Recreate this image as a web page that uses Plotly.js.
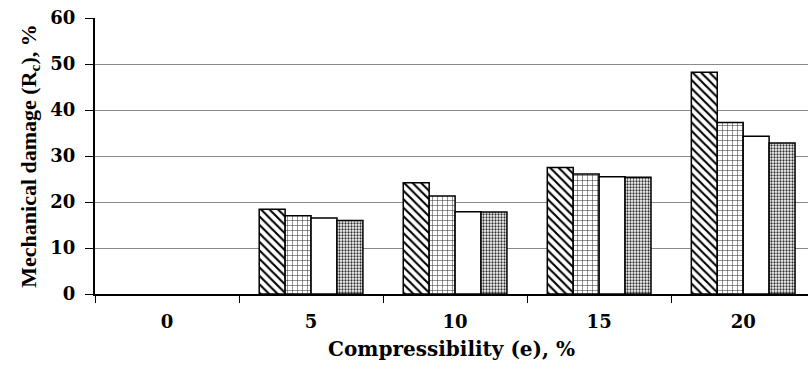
<!DOCTYPE html>
<html>
<head>
<meta charset="utf-8">
<script src="https://cdn.plot.ly/plotly-3.0.1.min.js"></script>
<style>html,body{margin:0;padding:0;background:#fff;}#chart{width:808px;height:370px;}</style>
</head>
<body>
<div id="chart"></div>
<script>
const categories = ["0", "5", "10", "15", "20"];
const series1 = [null, 18.4, 24.2, 27.5, 48.2];
const series2 = [null, 17.0, 21.3, 26.1, 37.3];
const series3 = [null, 16.5, 17.9, 25.5, 34.3];
const series4 = [null, 16.0, 17.8, 25.4, 32.8];
const yTicks = [0, 10, 20, 30, 40, 50, 60];

const patterns = [
  {shape: "\\", size: 6, solidity: 0.35, fgcolor: "#000", bgcolor: "#fff", fillmode: "replace"},
  {shape: "+", size: 5, solidity: 0.2, fgcolor: "#333", bgcolor: "#fff", fillmode: "replace"},
  {shape: "", fgcolor: "#000", bgcolor: "#fff"},
  {shape: ".", size: 3, solidity: 0.45, fgcolor: "#333", bgcolor: "#fff", fillmode: "replace"}
];
const allSeries = [series1, series2, series3, series4];
const data = allSeries.map((s, i) => ({
  type: "bar",
  x: categories,
  y: s,
  marker: {
    color: "#fff",
    line: {color: "#000", width: 1.5},
    pattern: patterns[i]
  },
  showlegend: false,
  hoverinfo: "skip"
}));

const wideSerif = "'DejaVu Serif', serif";
const narrowSerif = "'Liberation Serif', 'Times New Roman', serif";
const layout = {
  width: 808,
  height: 370,
  margin: {l: 95, r: 0, t: 18, b: 76},
  paper_bgcolor: "#fff",
  plot_bgcolor: "#fff",
  barmode: "group",
  bargap: 0.28,
  bargroupgap: 0,
  xaxis: {
    type: "category",
    range: [-0.5, 4.45],
    tickson: "boundaries",
    ticks: "outside",
    ticklen: 7,
    tickcolor: "#000",
    tickwidth: 1,
    showline: true,
    linecolor: "#000",
    linewidth: 1.5,
    showgrid: false,
    ticklabelstandoff: 11,
    tickfont: {family: wideSerif, size: 18, color: "#000", weight: 700},
    title: {text: "<b>Compressibility (e), %</b>", font: {family: wideSerif, size: 20, color: "#000"}, standoff: 11}
  },
  yaxis: {
    range: [0, 60],
    tickvals: yTicks,
    ticktext: yTicks.map(v => "<b>" + v + "</b>"),
    ticks: "outside",
    ticklen: 8,
    tickcolor: "#000",
    showline: true,
    linecolor: "#000",
    linewidth: 2,
    showgrid: true,
    gridcolor: "#8a8a8a",
    gridwidth: 1,
    zeroline: false,
    ticklabelstandoff: 6,
    tickfont: {family: wideSerif, size: 18, color: "#000"},
    title: {text: "<b>Mechanical damage (R<sub>c</sub>), %</b>", font: {family: narrowSerif, size: 22, color: "#000"}, standoff: 8}
  }
};

Plotly.newPlot("chart", data, layout, {displayModeBar: false, staticPlot: true});
</script>
</body>
</html>
